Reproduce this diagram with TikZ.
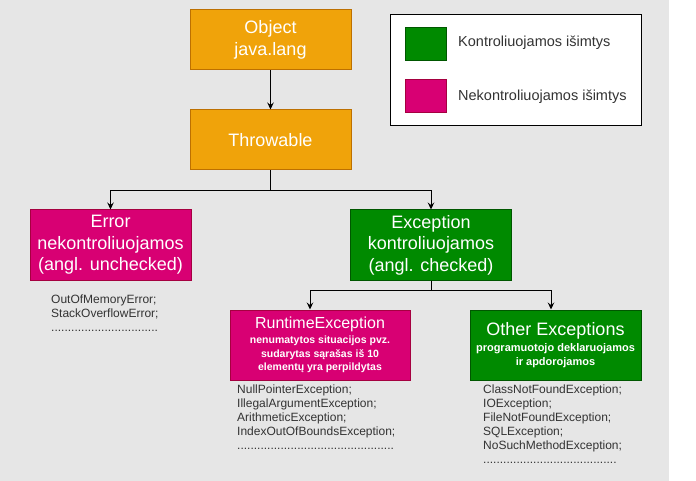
\documentclass[tikz,border=0pt]{standalone}
\usepackage{fontspec}
\setmainfont{Liberation Sans}
\usepackage[HTML]{xcolor}
\usepackage{tikz}
\usetikzlibrary{positioning, arrows.meta}

\definecolor{bggray}{HTML}{E6E6E6}
\definecolor{orangefill}{HTML}{F0A30A}
\definecolor{orangeline}{HTML}{BD7000}
\definecolor{pinkfill}{HTML}{D80073}
\definecolor{pinkline}{HTML}{A50040}
\definecolor{greenfill}{HTML}{008A00}
\definecolor{greenline}{HTML}{005700}
\definecolor{listtext}{HTML}{333333}

\begin{document}
\begin{tikzpicture}[x=1pt, y=-1pt,
  box/.style={draw, line width=1pt, text=white, align=center, inner sep=2pt, minimum width=161pt, minimum height=70pt, font=\fontsize{18}{21.5}\selectfont},
  rootbox/.style={box, fill=orangefill, draw=orangeline, minimum height=60pt},
  unchk/.style={box, fill=pinkfill, draw=pinkline},
  chk/.style={box, fill=greenfill, draw=greenline},
  arr/.style={-{Stealth[length=7pt,width=6.5pt,inset=2.5pt]}, line width=0.9pt},
  list/.style={anchor=north west, align=left, inner sep=0pt, text=listtext, font=\fontsize{12}{14}\selectfont},
  swatch/.style={draw, line width=1pt, minimum width=41pt, minimum height=33pt, inner sep=0pt},
  legtext/.style={anchor=west, inner sep=0pt, text=listtext, font=\fontsize{14.5}{17}\selectfont}]

% Canvas
\useasboundingbox (0,0) rectangle (696,481);
\fill[white] (0,0) rectangle (696,481);
\fill[bggray] (0,0) rectangle (669,481);

% Boxes
\node[rootbox] (obj) at (270.5,40) {Object\\java.lang};
\node[rootbox] (thr) at (270.5,140) {Throwable};
\node[unchk] (err) at (110.5,245) {Error\\nekontroliuojamos\\(angl. unchecked)};
\node[chk] (exc) at (431,245) {Exception\\kontroliuojamos\\(angl. checked)};
\node[unchk, minimum width=180pt, font=\fontsize{10.5}{13.5}\selectfont\bfseries] (rt) at (320,345)
  {{\fontsize{16}{19}\selectfont\mdseries RuntimeException}\\[2pt]
   nenumatytos situacijos pvz.\\
   sudarytas sąrašas iš 10\\
   elementų yra perpildytas};
\node[chk, minimum width=171pt, font=\fontsize{11}{14}\selectfont\bfseries] (oth) at (555.5,345)
  {{\fontsize{18}{21}\selectfont\mdseries Other Exceptions}\\[2pt]
   programuotojo deklaruojamos\\
   ir apdorojamos};

% Examples under the boxes
\node[list] (errlist) at (51,295) {OutOfMemoryError;\\StackOverflowError;\\................................};
\node[list] (rtlist) at (237,385) {NullPointerException;\\IllegalArgumentException;\\ArithmeticException;\\IndexOutOfBoundsException;\\...............................................};
\node[list] (othlist) at (483,385) {ClassNotFoundException;\\IOException;\\FileNotFoundException;\\SQLException;\\NoSuchMethodException;\\........................................};

% Connectors
\draw[arr] (obj) -- (thr);
\draw[arr] (thr.south) -- ++(0,20) -| (err.north);
\draw[arr] (thr.south) -- ++(0,20) -| (exc.north);
\draw[arr] (exc.south) -- ++(0,10) -| ([xshift=-10pt]rt.north);
\draw[arr] (exc.south) -- ++(0,10) -| ([xshift=-4.5pt]oth.north);

% Legend
\node[draw, line width=1pt, fill=white, minimum width=251pt, minimum height=111pt, inner sep=0pt] (leg) at (515.5,70.5) {};
\node[swatch, fill=greenfill, draw=greenline] (legchk) at (425.5,44.5) {};
\node[swatch, fill=pinkfill, draw=pinkline] (legunchk) at (425.5,96) {};
\node[legtext] (legchktxt) at (458,43) {Kontroliuojamos išimtys};
\node[legtext] (legunchktxt) at (458,97) {Nekontroliuojamos išimtys};
\end{tikzpicture}
\end{document}
